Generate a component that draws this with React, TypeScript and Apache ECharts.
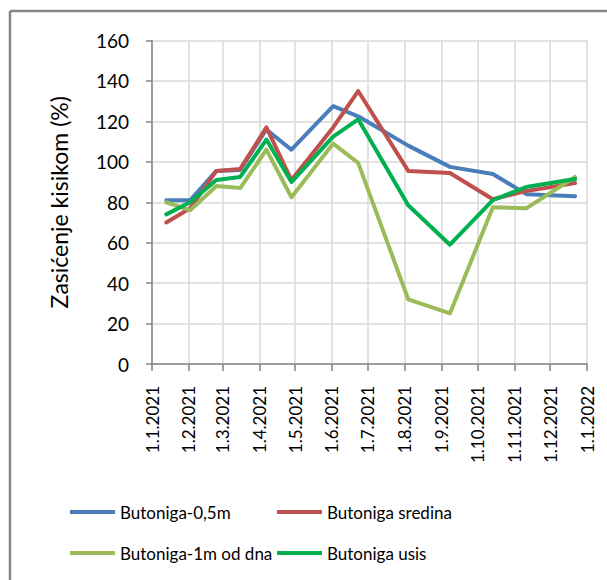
import React, { useEffect, useRef } from "react";
import * as echarts from "echarts";

const dates = [
  "2021-01-13", "2021-02-02", "2021-02-24", "2021-03-16", "2021-04-07", "2021-04-28",
  "2021-06-02", "2021-06-23", "2021-08-04", "2021-09-08", "2021-10-14", "2021-11-11", "2021-12-22",
];
const seriesNames = ["Butoniga-0,5m", "Butoniga sredina", "Butoniga-1m od dna", "Butoniga usis"];
const blueValues = [81, 81, 95.5, 96, 116, 106, 127.5, 122.5, 108, 97.5, 94, 84, 83];
const redValues = [70, 77, 95.5, 96.5, 117, 91, 117, 135, 95.5, 94.5, 81.5, 85.5, 89.5];
const lightGreenValues = [80, 76, 88, 87, 106, 82.5, 109, 99.5, 32, 25, 77.5, 77, 92.5];
const greenValues = [74, 80, 91, 92.5, 111, 90, 112.5, 121, 78.5, 59, 81, 87.5, 91.5];
const yTicks = { min: 0, max: 160, interval: 20 };
const xRange = { min: "2021-01-01", max: "2022-01-01" };
const yTitle = "Zasićenje kisikom (%)";

const colors = ["#4A7EBB", "#C0504D", "#9BBB59", "#00B050"];
const FONT = "Lato";

export default function App() {
  const ref = useRef<HTMLDivElement>(null);
  useEffect(() => {
    document.body.style.margin = "0";
    const chart = echarts.init(ref.current!, null, { renderer: "svg" });
    const valuesList = [blueValues, redValues, lightGreenValues, greenValues];
    const day = 86400000;
    const legendBase = {
      orient: "vertical",
      top: 497,
      itemWidth: 45,
      itemHeight: 4,
      itemGap: 21,
      itemTextGap: 5,
      icon: "rect",
      textStyle: { fontSize: 17, lineHeight: 20, fontFamily: FONT, color: "#000" },
    };
    chart.setOption({
      animation: false,
      backgroundColor: "#ffffff",
      color: colors,
      textStyle: { fontFamily: FONT, color: "#000" },
      grid: { left: 152, right: 20, top: 40.5, bottom: 216, containLabel: false },
      graphic: [
        { type: "line", shape: { x1: 10, y1: 11, x2: 607, y2: 11 }, style: { stroke: "#868686", lineWidth: 2.5 } },
        { type: "line", shape: { x1: 10, y1: 11, x2: 10, y2: 580 }, style: { stroke: "#868686", lineWidth: 2.5 } },
      ],
      xAxis: {
        type: "time",
        min: xRange.min,
        max: xRange.max,
        splitNumber: 12,
        minInterval: 28 * day,
        maxInterval: 31 * day,
        axisLine: { lineStyle: { color: "#868686", width: 1.5 } },
        axisTick: { show: true, length: 7, lineStyle: { color: "#868686", width: 1.5 } },
        splitLine: { show: true, lineStyle: { color: "#D9D9D9", width: 1.5 } },
        axisLabel: {
          rotate: 90,
          margin: 22,
          fontSize: 17,
          fontFamily: FONT,
          fontWeight: "normal",
          color: "#000",
          showMinLabel: true,
          showMaxLabel: true,
          hideOverlap: false,
          formatter: (v: number) => {
            const d = new Date(v);
            return `${d.getDate()}.${d.getMonth() + 1}.${d.getFullYear()}`;
          },
        },
      },
      yAxis: {
        type: "value",
        min: yTicks.min,
        max: yTicks.max,
        interval: yTicks.interval,
        name: yTitle,
        nameLocation: "middle",
        nameGap: 82,
        nameTextStyle: { fontSize: 23, fontFamily: FONT, color: "#000" },
        axisLine: { show: true, lineStyle: { color: "#868686", width: 1.5 } },
        axisTick: { show: true, length: 6, lineStyle: { color: "#868686", width: 1.5 } },
        splitLine: { show: true, lineStyle: { color: "#D9D9D9", width: 1.5 } },
        axisLabel: { margin: 23, fontSize: 19, fontFamily: FONT, color: "#000" },
      },
      legend: [
        { ...legendBase, data: [seriesNames[0], seriesNames[2]], left: 65 },
        { ...legendBase, data: [seriesNames[1], seriesNames[3]], left: 272 },
      ],
      series: seriesNames.map((name, i) => ({
        name,
        type: "line",
        data: dates.map((d, j) => [d, valuesList[i][j]]),
        showSymbol: false,
        symbol: "none",
        lineStyle: { width: 4, color: colors[i], cap: "round", join: "round" },
        itemStyle: { color: colors[i] },
      })),
    });
    return () => chart.dispose();
  }, []);
  return <div ref={ref} style={{ width: 607, height: 580 }} />;
}
